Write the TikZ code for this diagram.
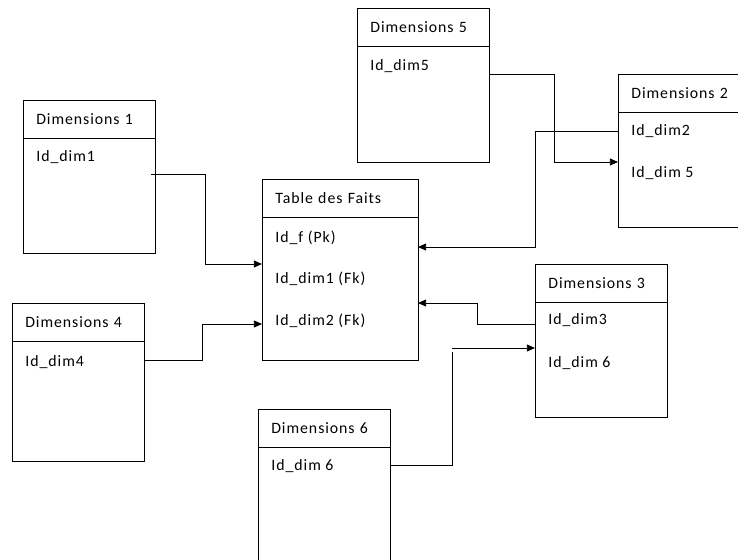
\documentclass[tikz,border=0pt]{standalone}
\usepackage{fontspec}
\setmainfont{Carlito}[LetterSpace=6]
\usetikzlibrary{arrows.meta,positioning}

\begin{document}
\begin{tikzpicture}[x=0.03cm,y=-0.03cm,line width=.8pt,
  every node/.style={font=\fontsize{13.5}{16}\selectfont},
  headbox/.style={draw,anchor=north west,align=left,inner xsep=0.4cm,inner ysep=0pt,outer sep=0pt,minimum height=1.16cm,text width=#1},
  headbox/.default=3.16cm,
  bodybox/.style={draw,minimum width=#1,inner sep=0pt,outer sep=0pt},
  bodybox/.default=3.96cm,
  field/.style={anchor=base west,inner sep=0pt},
  link/.style={-{Triangle[length=7pt,width=6pt]}}]
\clip (0,0) rectangle (738,559);
% tables
\node[headbox] (hd1) at (23,100) {Dimensions 1};
\node[bodybox,minimum height=3.43cm,below=0pt of hd1] (bd1) {};
\node[field] (fd1) at (36,161) {Id\_dim1};

\node[headbox=3.88cm] (hf) at (262,179) {Table des Faits};
\node[bodybox=4.68cm,minimum height=4.27cm,below=0pt of hf] (bf) {};
\node[field] (ff1) at (275,242) {Id\_f (Pk)};
\node[field] (ff2) at (275,283) {Id\_dim1 (Fk)};
\node[field] (ff3) at (275,325) {Id\_dim2 (Fk)};

\node[headbox] (hd4) at (12,303) {Dimensions 4};
\node[bodybox,minimum height=3.58cm,below=0pt of hd4] (bd4) {};
\node[field] (fd4) at (25,366) {Id\_dim4};

\node[headbox] (hd5) at (357,8) {Dimensions 5};
\node[bodybox,minimum height=3.46cm,below=0pt of hd5] (bd5) {};
\node[field] (fd5) at (370,70) {Id\_dim5};

\node[headbox] (hd2) at (618,74) {Dimensions 2};
\node[bodybox,minimum height=3.43cm,below=0pt of hd2] (bd2) {};
\node[field] (fd21) at (631,135) {Id\_dim2};
\node[field] (fd22) at (631,177) {Id\_dim 5};

\node[headbox] (hd3) at (535,264) {Dimensions 3};
\node[bodybox,minimum height=3.43cm,below=0pt of hd3] (bd3) {};
\node[field] (fd31) at (548,324) {Id\_dim3};
\node[field] (fd32) at (548,367) {Id\_dim 6};

\node[headbox] (hd6) at (258,409) {Dimensions 6};
\node[bodybox,minimum height=5cm,below=0pt of hd6] (bd6) {};
\node[field] (fd6) at (271,470) {Id\_dim 6};
% links
\coordinate (s1) at (151,174);\coordinate (k1) at (205,264);
\draw[link] (s1) -| (k1) -- (k1 -| bf.west);
\coordinate (s4) at (144,360);\coordinate (k4) at (202,324);
\draw[link] (s4) -| (k4) -- (k4 -| bf.west);
\coordinate (s5) at (489,74);\coordinate (k5) at (554,162);
\draw[link] (s5) -| (k5) -- (k5 -| bd2.west);
\coordinate (s2) at (618,131);\coordinate (k2) at (535,247);
\draw[link] (s2) -| (k2) -- (k2 -| bf.east);
\coordinate (s3) at (535,324);\coordinate (k3) at (477,303);
\draw[link] (s3) -| (k3) -- (k3 -| bf.east);
\coordinate (s6) at (390,465);\coordinate (k6) at (452,352);\coordinate (k6b) at (452,348);
\draw[link] (s6) -| (k6) (k6b) -- (k6b -| bd3.west);
\end{tikzpicture}
\end{document}
